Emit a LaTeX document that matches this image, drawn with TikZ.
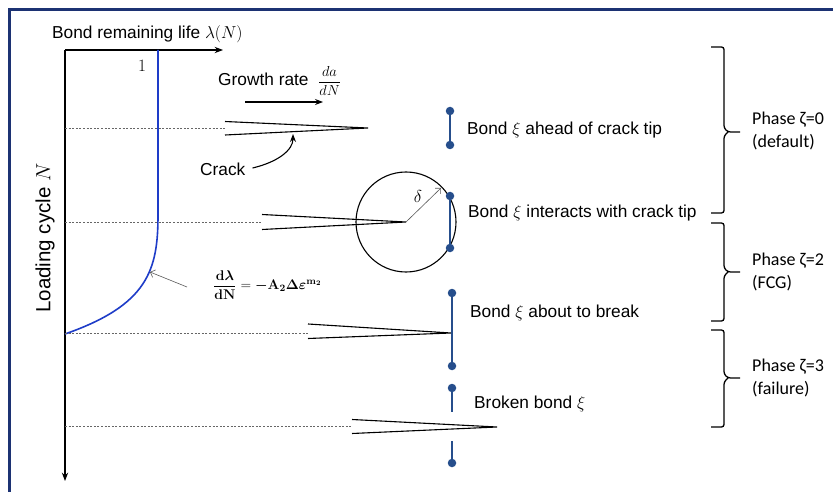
\RequirePackage{fix-cm}
\documentclass[tikz,border=0pt]{standalone}
\usepackage{amsmath, amssymb}
\usepackage[no-math]{fontspec}
\setmainfont{Liberation Sans}
\newfontfamily\phasefont{Carlito}
\usepackage{xcolor}
\usepackage{tikz}
\usetikzlibrary{arrows.meta, positioning, calc}

\definecolor{framenavy}{RGB}{28,50,115}
\definecolor{curveblue}{RGB}{30,60,200}
\definecolor{bondblue}{RGB}{38,78,140}

\begin{document}
\begin{tikzpicture}[x=1pt, y=-1pt, >=Stealth, font=\fontsize{17.3}{20}\selectfont]
        \tikzstyle{dashline} = [gray!80!black, dash pattern=on 2pt off 1.6pt, line width=0.6pt]
        \tikzstyle{crackline} = [black, line width=1.1pt]
        \tikzstyle{bond} = [bondblue, line width=2pt]
        \tikzstyle{bondend} = [circle, fill=bondblue, inner sep=0pt, minimum size=8.5pt]
        \tikzstyle{txt} = [anchor=west, inner sep=0pt]
        \tikzstyle{phase} = [anchor=west, inner sep=0pt, align=left, font=\phasefont\fontsize{18}{23}\selectfont]
        \tikzstyle{phasebrace} = [line width=1.3pt, rounded corners=2.5pt]
        \tikzstyle{thinarrow} = [gray!70!black, line width=0.6pt, -{Straight Barb[length=4pt]}]

        \useasboundingbox (0,0) rectangle (833,492);
        \fill[white] (0,0) rectangle (833,492);
        \draw[framenavy, line width=2.5pt] (9.5,492) -- (9.5,9.5) -- (833,9.5);

        % --- axes ---
        \coordinate (origin) at (65,50);
        \coordinate (xend) at (223,50);
        \coordinate (yend) at (65,481);
        \draw[->, line width=1.2pt] (origin) -- (xend);
        \draw[->, line width=1.2pt] (origin) -- (yend);
        \node[txt] (title) at (52,34) {Bond remaining life $\lambda(N)$};
        \node (one) at (142,66) {$1$};
        \node[rotate=90, font=\fontsize{20.5}{24}\selectfont] (ylabel) at (45,238) {Loading cycle $N$};

        % --- remaining life curve ---
        \draw[curveblue, line width=1.6pt] (158,50) -- (158,215)
            .. controls (158,270) and (148,305) .. (65,334);
        \node[txt, font=\fontsize{14}{16}\selectfont] (eqn) at (213,285) {$\dfrac{\mathbf{d}\boldsymbol{\lambda}}{\mathbf{dN}} = \boldsymbol{-}\mathbf{A_2}\mathbf{\Delta}\boldsymbol{\varepsilon}^{\mathbf{m_2}}$};
        \coordinate (onCurve) at (150,272);
        \draw[thinarrow] (187,287) -- (onCurve);

        % --- growth rate ---
        \node[txt] (growth) at (218,81) {Growth rate\; {\fontsize{14.5}{16}\selectfont$\dfrac{da}{dN}$}};
        \coordinate (gr0) at (245,102);
        \coordinate (gr1) at (323,102);
        \draw[->, line width=1.1pt] (gr0) -- (gr1);

        % --- cracks + dashed levels ---
        \coordinate (tip1) at (368,128);
        \coordinate (tip2) at (406,222);
        \coordinate (tip3) at (451,333);
        \coordinate (tip4) at (497,427);
        \draw[dashline] (65,128) -- (225,128);
        \draw[dashline] (65,222) -- (262,222);
        \draw[dashline] (65,333) -- (308,333);
        \draw[dashline] (65,426) -- (352,426);
        \draw[crackline] (225,121.5) -- (tip1) -- (225,135);
        \draw[crackline] (262,214.5) -- (tip2) -- (262,229.5);
        \draw[crackline] (308,324) -- (tip3) -- (308,338.5);
        \draw[crackline] (352,419.5) -- (tip4) -- (352,433.5);

        \node[txt] (crack) at (200,169) {Crack};
        \draw[->, line width=1.1pt] (crack.east) ++(7,-1) .. controls (278,162) and (293,150) .. (293,134);

        % --- horizon circle ---
        \draw[line width=1.1pt] (tip2) circle[radius=50];
        \coordinate (rad) at (441,188);
        \draw[thinarrow] (tip2) -- (rad);
        \node (delta) at (418,196) {$\delta$};

        % --- bonds ---
        \node[bondend] (b1t) at (450,111) {};
        \node[bondend] (b1b) at (450,145) {};
        \node[bondend] (b2t) at (450,196) {};
        \node[bondend] (b2b) at (450,248) {};
        \node[bondend] (b3t) at (452,293) {};
        \node[bondend] (b3b) at (452,366) {};
        \node[bondend] (b4t) at (452,388) {};
        \coordinate (b4m) at (452,412);
        \coordinate (b5m) at (452,441);
        \node[bondend] (b5b) at (452,463) {};
        \draw[bond] (b1t) -- (b1b);
        \draw[bond] (b2t) -- (b2b);
        \draw[bond] (b3t) -- (b3b);
        \draw[bond] (b4t) -- (b4m);
        \draw[bond] (b5m) -- (b5b);

        \node[txt] (bond1) at (467,130) {Bond $\xi$ ahead of crack tip};
        \node[txt] (bond2) at (468,213) {Bond $\xi$ interacts with crack tip};
        \node[txt] (bond3) at (470,313) {Bond $\xi$ about to break};
        \node[txt] (bond4) at (474,404) {Broken bond $\xi$};

        % --- phases ---
        \draw[phasebrace] (711,47) -| (724,128) -- (728,132) -- (740,132)
            (728,132) -- (724,136) |- (711,213);
        \draw[phasebrace] (711,223) -| (724,268) -- (728,272) -- (740,272)
            (728,272) -- (724,276) |- (711,321);
        \draw[phasebrace] (711,330) -| (724,374) -- (728,378) -- (740,378)
            (728,378) -- (724,382) |- (711,427);
        \node[phase] (phase0) at (752,131) {Phase ζ=0\\(default)};
        \node[phase] (phase2) at (752,272) {Phase ζ=2\\(FCG)};
        \node[phase] (phase3) at (752,378) {Phase ζ=3\\(failure)};

    \end{tikzpicture}
\end{document}
